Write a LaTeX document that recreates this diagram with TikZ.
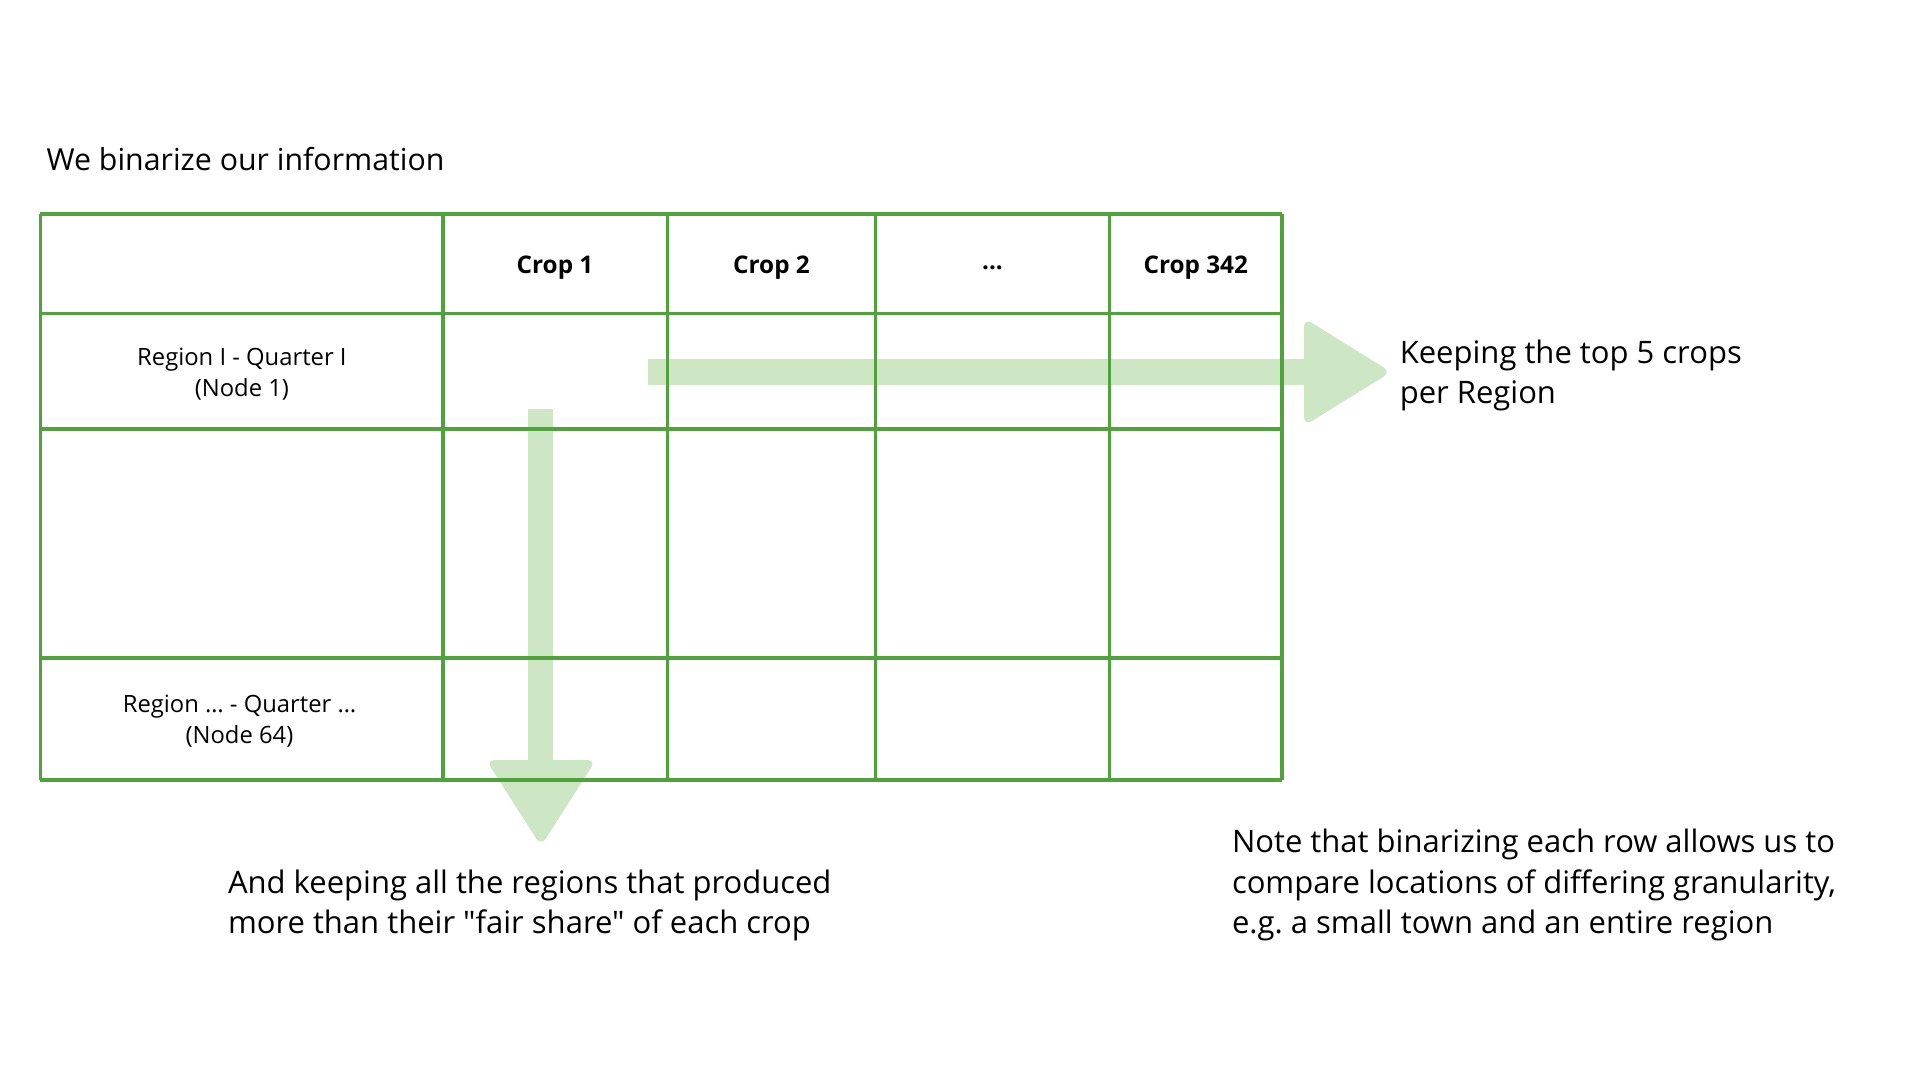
\documentclass[tikz,border=0pt]{standalone}
\usepackage{fontspec}
\newfontfamily\opensans{Open Sans}
\usepackage{tikz}

\definecolor{tablegreen}{RGB}{80,162,60}
\definecolor{arrowgreen}{RGB}{205,231,197}

\tikzset{
  gridline/.style={draw=tablegreen, line width=3.8pt},
  bigarrow/.style={fill=arrowgreen},
  arrowhead/.style={fill=arrowgreen, rounded corners=9pt},
  celltext/.style={inner sep=0pt, align=center, font=\opensans\fontsize{23.8}{31.5}\selectfont},
  headtext/.style={inner sep=0pt, font=\opensans\fontsize{24.3}{31}\selectfont\bfseries},
  notetext/.style={inner sep=0pt, anchor=west, align=left, font=\opensans\fontsize{31}{40.5}\selectfont}
}

\begin{document}
\begin{tikzpicture}[x=1pt,y=-1pt]
    \useasboundingbox[fill=white] (0,0) rectangle (1920,1080);

    % arrows behind the table
    \fill[bigarrow] (647.8,359) rectangle (1310,385);
    \fill[arrowhead] (1304,318) -- (1391,372) -- (1304,426) -- cycle;
    \fill[bigarrow] (528,409) rectangle (553,766);
    \fill[arrowhead] (486,760) -- (596,760) -- (541,846) -- cycle;

    % table
    \draw[gridline] (40.4,214.3) -- (1282,214.3);
    \draw[gridline] (40.4,313.5) -- (1282,313.5);
    \draw[gridline] (40.4,428.6) -- (1282,428.6);
    \draw[gridline] (40.4,657.6) -- (1282,657.6);
    \draw[gridline] (40.4,780) -- (1282,780);

    \draw[gridline] (40.4,214.3) -- (40.4,780);
    \draw[gridline] (443.3,214.3) -- (443.3,780);
    \draw[gridline] (667.4,214.3) -- (667.4,780);
    \draw[gridline] (875.5,214.3) -- (875.5,780);
    \draw[gridline] (1109.4,214.3) -- (1109.4,780);
    \draw[gridline] (1282,214.3) -- (1282,780);

    \node[headtext] (crop1) at (555,267.5) {Crop 1};
    \node[headtext] (crop2) at (771.5,267.5) {Crop 2};
    \node[headtext] (cropdots) at (992.5,267.5) {...};
    \node[headtext] (croplast) at (1195.7,267.5) {Crop 342};

    \node[celltext] (rowfirst) at (241.9,374) {Region I - Quarter I\\(Node 1)};
    \node[celltext] (rowlast) at (239.5,721) {Region … - Quarter …\\(Node 64)};

    % texts
    \node[notetext, font=\opensans\fontsize{30.3}{40.5}\selectfont] (title) at (46.5,159) {We binarize our information};
    \node[notetext] (topnote) at (1399.6,375.5) {Keeping the top 5 crops\\per Region};
    \node[notetext] (downnote) at (227.8,905.5) {And keeping all the regions that produced\\more than their "fair share" of each crop};
    \node[notetext] (rownote) at (1231.8,885.3) {Note that binarizing each row allows us to\\compare locations of differing granularity,\\e.g.\ a small town and an entire region};
\end{tikzpicture}
\end{document}
